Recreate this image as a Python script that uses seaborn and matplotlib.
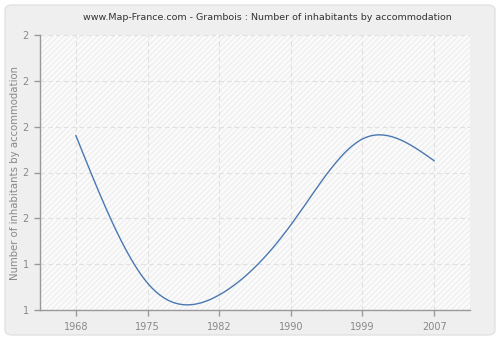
import numpy as np
import pandas as pd
import matplotlib
matplotlib.use("Agg")
import matplotlib.pyplot as plt
from matplotlib.patches import FancyBboxPatch
import seaborn as sns

years = ["1968", "1975", "1982", "1990", "1999", "2007"]
values = [1.952, 1.147, 1.082, 1.464, 1.933, 1.814]
y_ticks = [1.0, 1.25, 1.5, 1.75, 2.0, 2.25, 2.5]
y_tick_labels = ["1", "1", "2", "2", "2", "2", "2"]
title = "www.Map-France.com - Grambois : Number of inhabitants by accommodation"
y_label = "Number of inhabitants by accommodation"


def natural_spline(x, y, n=300):
    x = np.asarray(x, float)
    y = np.asarray(y, float)
    k = len(x)
    h = np.diff(x)
    A = np.zeros((k, k))
    b = np.zeros(k)
    A[0, 0] = 1
    A[-1, -1] = 1
    for i in range(1, k - 1):
        A[i, i - 1] = h[i - 1]
        A[i, i] = 2 * (h[i - 1] + h[i])
        A[i, i + 1] = h[i]
        b[i] = 6 * ((y[i + 1] - y[i]) / h[i] - (y[i] - y[i - 1]) / h[i - 1])
    M = np.linalg.solve(A, b)
    xs = np.linspace(x[0], x[-1], n)
    ys = np.empty_like(xs)
    for j, t in enumerate(xs):
        i = min(np.searchsorted(x, t, side="right") - 1, k - 2)
        dx0 = t - x[i]
        dx1 = x[i + 1] - t
        ys[j] = (M[i] * dx1 ** 3 / (6 * h[i]) + M[i + 1] * dx0 ** 3 / (6 * h[i])
                 + (y[i] / h[i] - M[i] * h[i] / 6) * dx1
                 + (y[i + 1] / h[i] - M[i + 1] * h[i] / 6) * dx0)
    return xs, ys


sns.set_theme(style="white")
plt.rcParams["font.family"] = ["DejaVu Sans"]

fig = plt.figure(figsize=(5.0, 3.4), dpi=100)
fig.patch.set_facecolor("white")
panel = FancyBboxPatch((5 / 500, 5 / 340), 490 / 500, 330 / 340,
                       boxstyle="round,pad=0,rounding_size=0.015",
                       transform=fig.transFigure, facecolor="#efefef",
                       edgecolor="#e2e2e2", linewidth=1.0, zorder=-5)
fig.patches.append(panel)

ax = fig.add_axes([40 / 500, 30 / 340, 430 / 500, 275 / 340])
ax.set_zorder(2)
ax.set_facecolor("#fbfbfb")
ax.add_patch(plt.Rectangle((0, 0), 1, 1, transform=ax.transAxes,
                           facecolor="none", edgecolor="#efefef",
                           hatch="//////", linewidth=0, zorder=0))

idx = np.arange(len(years))
xs, ys = natural_spline(idx, values)
df = pd.DataFrame({"x": xs, "y": ys})
sns.lineplot(data=df, x="x", y="y", ax=ax, color="#4a78b0", linewidth=1.0, zorder=3)

ax.set_xlim(-0.5, 5.5)
ax.set_ylim(1.0, 2.5)
ax.set_xticks(idx)
ax.set_xticklabels(years)
ax.set_yticks(y_ticks)
ax.set_yticklabels(y_tick_labels)
ax.grid(True, color="#e0e0e0", linestyle=(0, (4, 3)), linewidth=0.8)
ax.set_axisbelow(True)
for s in ["top", "right"]:
    ax.spines[s].set_visible(False)
for s in ["left", "bottom"]:
    ax.spines[s].set_color("#999999")
    ax.spines[s].set_linewidth(1.0)
ax.tick_params(axis="both", left=True, bottom=True, colors="#999999",
               labelcolor="#888888", labelsize=7, length=4, width=1,
               direction="out")
ax.tick_params(axis="y", pad=4)
ax.tick_params(axis="x", pad=5)
ax.set_xlabel("")
ax.set_ylabel(y_label, color="#888888", fontsize=7.3, labelpad=2)
fig.text(0.534, 1 - 18 / 340, title, ha="center", va="center",
         fontsize=6.8, color="#333333")

fig.savefig("out.png", dpi=100, facecolor=fig.get_facecolor())
